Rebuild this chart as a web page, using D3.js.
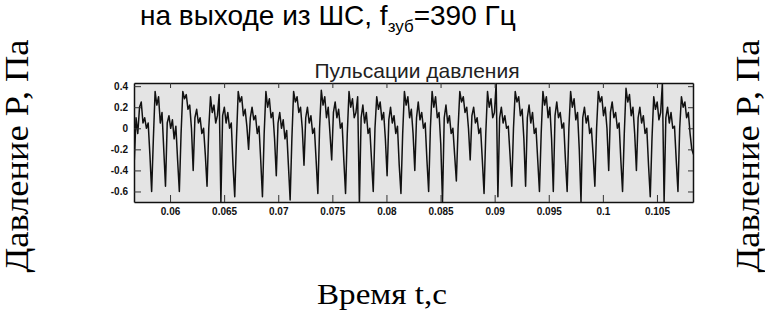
<!DOCTYPE html>
<html>
<head>
<meta charset="utf-8">
<script src="https://cdn.jsdelivr.net/npm/d3@7"></script>
<style>
  body { margin: 0; background: #fff; }
  svg { display: block; }
</style>
</head>
<body>
<div id="chart"></div>
<script>
// Pressure samples (Pa), one every 0.16 ms from t = 0.0567 s
var sampleStart = 0.0567;
var sampleStep = 0.00016;
var pressure = [
  -0.3, 0.1, -0.05, 0.2, 0.25, 0.05, 0.1, 0.0, 0.05, -0.25, -0.6, -0.1,
  0.35, 0.22, 0.3, 0.05, 0.15, -0.2, -0.55, 0.05, 0.12, 0.0, 0.08, -0.1, 0.02, -0.3, -0.6, -0.05,
  0.35, 0.28, 0.32, 0.18, 0.22, 0.0, -0.4, 0.1, 0.18, 0.05, 0.1, -0.05, 0.0, -0.25, -0.55, 0.0,
  0.3, 0.15, 0.22, 0.05, 0.12, 0.32, -0.7, 0.12, 0.2, 0.05, 0.15, 0.0, 0.05, -0.35, -0.65, -0.1,
  0.35, 0.25, 0.3, 0.12, 0.18, 0.02, -0.2, 0.1, 0.2, 0.08, 0.12, -0.05, 0.02, -0.3, -0.65, -0.05,
  0.35, 0.2, 0.28, 0.1, 0.15, -0.1, -0.45, 0.05, 0.15, 0.0, 0.08, -0.1, -0.02, -0.35, -0.68, -0.1,
  0.35, 0.25, 0.3, 0.15, 0.2, 0.0, -0.35, 0.1, 0.2, 0.05, 0.12, -0.05, 0.0, -0.3, -0.62, 0.0,
  0.36, 0.22, 0.3, 0.1, 0.2, -0.05, -0.3, 0.15, 0.25, 0.1, 0.18, 0.0, 0.05, -0.3, -0.62, -0.05,
  0.35, 0.2, 0.28, 0.1, 0.15, 0.3, -0.72, 0.1, 0.22, 0.05, 0.15, -0.05, 0.0, -0.3, -0.6, 0.0,
  0.3, 0.18, 0.25, 0.08, 0.15, -0.1, -0.45, 0.08, 0.2, 0.05, 0.12, -0.05, 0.02, -0.35, -0.62, -0.05,
  0.35, 0.22, 0.3, 0.1, 0.18, -0.05, -0.4, 0.1, 0.25, 0.08, 0.15, 0.0, 0.05, -0.3, -0.6, 0.0,
  0.35, 0.2, 0.3, 0.1, 0.15, -0.15, -0.7, 0.1, 0.22, 0.05, 0.12, -0.05, 0.0, -0.25, -0.5, 0.0,
  0.35, 0.25, 0.3, 0.15, 0.2, 0.0, -0.3, 0.12, 0.2, 0.05, 0.1, -0.05, 0.0, -0.3, -0.62, -0.05,
  0.35, 0.2, 0.28, 0.1, 0.15, 0.43, -0.65, 0.1, 0.2, 0.05, 0.12, 0.0, 0.02, -0.25, -0.55, 0.0,
  0.35, 0.25, 0.3, 0.12, 0.18, -0.1, -0.55, 0.1, 0.22, 0.05, 0.15, -0.05, 0.0, -0.3, -0.6, -0.05,
  0.35, 0.22, 0.3, 0.1, 0.2, -0.1, -0.6, 0.12, 0.25, 0.1, 0.15, 0.0, 0.05, -0.3, -0.6, 0.0,
  0.35, 0.2, 0.28, 0.08, 0.15, -0.2, -0.7, 0.1, 0.2, 0.05, 0.12, -0.05, 0.0, -0.25, -0.55, 0.0,
  0.35, 0.25, 0.3, 0.12, 0.2, 0.0, -0.4, 0.15, 0.25, 0.1, 0.15, 0.0, 0.05, -0.3, -0.6, -0.05,
  0.38, 0.25, 0.32, 0.12, 0.2, -0.05, -0.4, 0.1, 0.2, 0.05, 0.12, -0.05, 0.0, -0.35, -0.65, -0.1,
  0.3, 0.18, 0.25, 0.08, 0.15, 0.43, -0.7, 0.1, 0.2, 0.05, 0.15, 0.0, 0.02, -0.3, -0.6, 0.0,
  0.3, 0.2, 0.25, 0.1, 0.15, -0.05, -0.2, -0.25
];
var xTicks = [0.06, 0.065, 0.07, 0.075, 0.08, 0.085, 0.09, 0.095, 0.1, 0.105];
var yTicks = [0.4, 0.2, 0, -0.2, -0.4, -0.6];
var xDomain = [0.05667, 0.10833];
var yDomain = [-0.7, 0.43];

var width = 765, height = 316;
var plot = {left: 134, right: 693, top: 83, bottom: 202};
var sans = "'Liberation Sans', Arial, sans-serif";
var serif = "'Liberation Serif', 'Times New Roman', serif";

var svg = d3.select("#chart").append("svg")
    .attr("width", width)
    .attr("height", height);

var x = d3.scaleLinear().domain(xDomain).range([plot.left, plot.right]);
var y = d3.scaleLinear().domain(yDomain).range([plot.bottom, plot.top]);

// Main title with subscript
var title = svg.append("text")
    .attr("x", 140)
    .attr("y", 25)
    .style("font-family", sans)
    .style("font-size", "28px")
    .attr("fill", "#000");
title.append("tspan").text("на выходе из ШС, f");
title.append("tspan").attr("dy", 7).style("font-size", "17px").text("зуб");
title.append("tspan").attr("dy", -7).text("=390 Гц");

// Plot background
svg.append("rect")
    .attr("x", plot.left)
    .attr("y", plot.top)
    .attr("width", plot.right - plot.left)
    .attr("height", plot.bottom - plot.top)
    .attr("fill", "#e4e4e4");

svg.append("text")
    .attr("x", 417)
    .attr("y", 78)
    .attr("text-anchor", "middle")
    .style("font-family", sans)
    .style("font-size", "21px")
    .attr("fill", "#222")
    .text("Пульсации давления");

svg.append("clipPath").attr("id", "clip")
  .append("rect")
    .attr("x", plot.left)
    .attr("y", plot.top)
    .attr("width", plot.right - plot.left)
    .attr("height", plot.bottom - plot.top);

var line = d3.line()
    .x(function (d, i) { return x(sampleStart + i * sampleStep); })
    .y(function (d) { return y(d); });

svg.append("path")
    .datum(pressure)
    .attr("clip-path", "url(#clip)")
    .attr("d", line)
    .attr("fill", "none")
    .attr("stroke", "#111")
    .attr("stroke-width", 1.5)
    .attr("stroke-linejoin", "round");

// Axes, ticks pointing inward on all four sides
var tickFont = function (g) {
    g.selectAll("text")
        .style("font-family", sans)
        .style("font-size", "10px")
        .style("font-weight", "bold")
        .attr("fill", "#111");
    g.select(".domain").attr("stroke", "#111").attr("stroke-width", 1.5);
    g.selectAll(".tick line").attr("stroke", "#333");
};

svg.append("g")
    .attr("transform", "translate(0," + plot.bottom + ")")
    .call(d3.axisBottom(x).tickValues(xTicks).tickSize(-7).tickSizeOuter(0).tickPadding(6)
        .tickFormat(function (d) { return String(+d.toFixed(3)); }))
    .call(tickFont);

svg.append("g")
    .attr("transform", "translate(0," + plot.top + ")")
    .call(d3.axisTop(x).tickValues(xTicks).tickSize(-5).tickSizeOuter(0).tickFormat(""))
    .call(tickFont);

svg.append("g")
    .attr("transform", "translate(" + plot.left + ",0)")
    .call(d3.axisLeft(y).tickValues(yTicks).tickSize(-7).tickSizeOuter(0).tickPadding(6)
        .tickFormat(function (d) { return String(+d.toFixed(1)); }))
    .call(tickFont);

svg.append("g")
    .attr("transform", "translate(" + plot.right + ",0)")
    .call(d3.axisRight(y).tickValues(yTicks).tickSize(-5).tickSizeOuter(0).tickFormat(""))
    .call(tickFont);

// Axis titles
svg.append("text")
    .attr("transform", "translate(28,156) rotate(-90)")
    .attr("text-anchor", "middle")
    .attr("textLength", 233)
    .attr("lengthAdjust", "spacingAndGlyphs")
    .style("font-family", serif)
    .style("font-size", "33px")
    .text("Давление P, Па");

svg.append("text")
    .attr("transform", "translate(759,156) rotate(-90)")
    .attr("text-anchor", "middle")
    .attr("textLength", 233)
    .attr("lengthAdjust", "spacingAndGlyphs")
    .style("font-family", serif)
    .style("font-size", "33px")
    .text("Давление P, Па");

svg.append("text")
    .attr("x", 382)
    .attr("y", 304)
    .attr("text-anchor", "middle")
    .attr("textLength", 130)
    .attr("lengthAdjust", "spacingAndGlyphs")
    .style("font-family", serif)
    .style("font-size", "30px")
    .text("Время t,c");
</script>
</body>
</html>
